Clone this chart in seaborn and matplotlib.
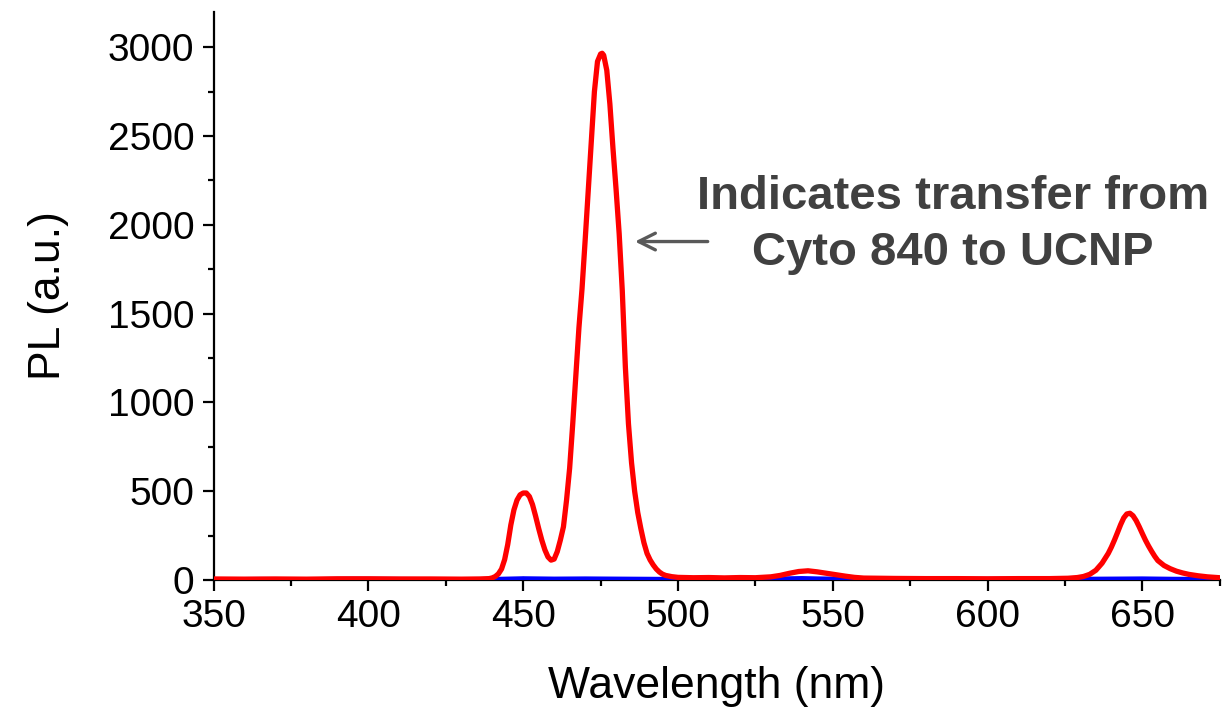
import matplotlib
matplotlib.use("Agg")
import matplotlib.pyplot as plt
from matplotlib.ticker import MultipleLocator
import numpy as np
import pandas as pd
import seaborn as sns

# Upconversion PL spectrum with dye (red) and the control traces (blue, black)
red_nm = [350, 360, 370, 380, 390, 400, 410, 420, 430, 436, 439, 440, 441, 442, 443,
          444, 445, 446, 447, 448, 449, 450, 451, 452, 453, 454, 455, 456, 457, 458,
          459, 460, 461, 462, 463, 464, 465, 466, 467, 468, 469, 470, 471, 472, 473,
          474, 475, 475.5, 476, 477, 478, 479, 480, 481, 482, 483, 484, 485, 486, 487,
          488, 489, 490, 491, 492, 493, 494, 495, 496, 498, 500, 505, 510, 515, 520,
          525, 530, 533, 536, 539, 542, 545, 548, 551, 554, 557, 560, 570, 580, 590,
          600, 610, 620, 626, 629, 631, 633, 635, 637, 639, 640, 641, 642, 643, 644,
          645, 646, 647, 648, 649, 650, 651, 652, 653, 654, 655, 657, 659, 661, 663,
          665, 668, 671, 675]
red_pl = [6, 5, 6, 5, 7, 7, 6, 6, 5, 6, 8, 12, 20, 35, 62,
          115, 200, 310, 395, 450, 480, 490, 490, 470, 425, 360, 290, 225, 170, 130,
          112, 118, 160, 225, 300, 450, 630, 880, 1150, 1420, 1640, 1910, 2190, 2470, 2750,
          2920, 2962, 2966, 2955, 2870, 2680, 2430, 2200, 1950, 1630, 1200, 880, 660, 500, 380,
          290, 210, 150, 113, 85, 62, 45, 33, 26, 19, 15, 13, 14, 12, 14,
          13, 18, 26, 38, 48, 52, 46, 38, 30, 22, 15, 11, 9, 8, 8,
          7, 8, 8, 10, 14, 20, 32, 55, 95, 150, 185, 225, 268, 312, 350,
          372, 376, 362, 335, 300, 262, 225, 192, 162, 134, 110, 82, 64, 50, 40,
          32, 24, 18, 13]

blue_nm = [350, 365, 380, 395, 410, 425, 440, 445, 450, 455, 460, 470, 480, 490, 500,
           515, 530, 540, 545, 555, 570, 590, 610, 630, 640, 650, 660, 675]
blue_pl = [4, 5, 4, 6, 5, 4, 5, 7, 9, 8, 7, 8, 7, 6, 5,
           6, 7, 10, 8, 6, 5, 5, 6, 6, 7, 8, 6, 5]

black_nm = [350, 400, 445, 450, 455, 470, 475, 480, 500, 550, 600, 650, 675]
black_pl = [2, 3, 3, 12, 4, 3, 9, 3, 3, 4, 3, 4, 3]

x_ticks = [350, 400, 450, 500, 550, 600, 650]
y_ticks = [0, 500, 1000, 1500, 2000, 2500, 3000]

note_text = "Indicates transfer from\nCyto 840 to UCNP"

sns.set_theme(style="ticks")
plt.rcParams["font.family"] = ["Liberation Sans", "DejaVu Sans"]
plt.rcParams["text.color"] = "black"
plt.rcParams["axes.labelcolor"] = "black"

fig = plt.figure(figsize=(12.23, 7.11), dpi=100)
ax = fig.add_axes([0.1747, 0.1842, 0.8226, 0.7993])

df_black = pd.DataFrame({"nm": black_nm, "pl": black_pl})
df_blue = pd.DataFrame({"nm": blue_nm, "pl": blue_pl})
df_red = pd.DataFrame({"nm": red_nm, "pl": red_pl})

sns.lineplot(data=df_black, x="nm", y="pl", ax=ax, color="black", lw=1.5, zorder=2)
sns.lineplot(data=df_blue, x="nm", y="pl", ax=ax, color="#0000ff", lw=3.2, zorder=3)
sns.lineplot(data=df_red, x="nm", y="pl", ax=ax, color="#ff0000", lw=3.8, zorder=4)

ax.set_xlim(350, 675)
ax.set_ylim(0, 3200)
ax.set_xticks(x_ticks)
ax.set_yticks(y_ticks)
ax.xaxis.set_minor_locator(MultipleLocator(25))
ax.yaxis.set_minor_locator(MultipleLocator(250))

for side in ("top", "right"):
    ax.spines[side].set_visible(False)
for side in ("left", "bottom"):
    ax.spines[side].set_linewidth(1.6)
    ax.spines[side].set_color("black")

ax.tick_params(which="major", direction="out", length=8, width=1.6,
               labelsize=28, pad=6, colors="black")
ax.tick_params(which="minor", direction="out", length=4.5, width=1.6, colors="black")

ax.set_xlabel("Wavelength (nm)", fontsize=32, labelpad=22, color="black")
ax.set_ylabel("PL (a.u.)", fontsize=32, labelpad=28, color="black")

ax.annotate("", xy=(485.2, 1906), xytext=(510.5, 1906),
            arrowprops=dict(arrowstyle="->", color="#595959", lw=2.4,
                            mutation_scale=30))
ax.text(588.9, 2000, note_text, ha="center", va="center", fontsize=34,
        fontweight="bold", color="#404040", linespacing=1.35)

fig.savefig("out.png", dpi=100)
